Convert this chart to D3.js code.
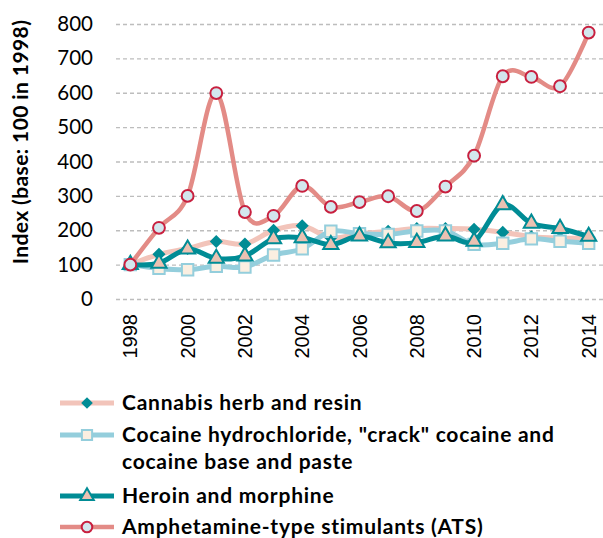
<!DOCTYPE html>
<html>
  <head>
    <meta charset='utf-8'>
    <title>Drug seizures index</title>
    <script src='https://d3js.org/d3.v7.min.js'></script>
    <style>
      body { margin: 0; background: #fff; }
    </style>
  </head>

  <body>
    <div id='grafico'></div>
    <script>
    // Datos
    const years    = [1998, 1999, 2000, 2001, 2002, 2003, 2004, 2005, 2006, 2007, 2008, 2009, 2010, 2011, 2012, 2013, 2014];
    const cannabis = [100, 130, 147, 167, 160, 200, 213, 178, 190, 197, 205, 205, 203, 194, 181, 177, 177];
    const cocaine  = [100, 89, 85, 95, 93, 128, 146, 197, 190, 188, 198, 198, 159, 162, 175, 168, 162];
    const heroin   = [100, 104, 145, 118, 125, 175, 178, 158, 183, 163, 164, 183, 168, 274, 220, 205, 182];
    const ats      = [100, 207, 300, 599, 253, 242, 329, 268, 282, 299, 256, 327, 417, 648, 646, 619, 775];
    const yTicks   = [0, 100, 200, 300, 400, 500, 600, 700, 800];
    const xTicks   = [1998, 2000, 2002, 2004, 2006, 2008, 2010, 2012, 2014];
    const legendLabels = [
      ['Cannabis herb and resin'],
      ['Cocaine hydrochloride, "crack" cocaine and', 'cocaine base and paste'],
      ['Heroin and morphine'],
      ['Amphetamine-type stimulants (ATS)']
    ];

    const W = 603, H = 538;
    const plot = { left: 116, right: 603, top: 24, bottom: 299 };

    const svg = d3.select('#grafico').append('svg')
      .attr('width', W)
      .attr('height', H);

    // Escalas
    const x = d3.scaleBand().domain(years).range([plot.left, plot.right]).padding(0);
    const y = d3.scaleLinear().domain([0, 800]).range([plot.bottom, plot.top]);
    const cx = d => x(d) + x.bandwidth() / 2;

    // Eje Y con rejilla discontinua
    const yAxis = svg.append('g')
      .attr('transform', 'translate(' + plot.left + ',0)')
      .call(d3.axisLeft(y).tickValues(yTicks).tickSize(-(plot.right - plot.left)).tickPadding(23));
    yAxis.select('.domain').remove();
    yAxis.selectAll('.tick line')
      .attr('stroke', '#bdbdbd')
      .attr('stroke-width', 1.3)
      .attr('stroke-dasharray', '4,3');
    yAxis.selectAll('.tick text')
      .attr('fill', '#000')
      .style('font-family', 'Lato, sans-serif')
      .style('font-size', '20.5px');

    // Eje X con etiquetas verticales
    const xAxis = svg.append('g')
      .attr('transform', 'translate(0,' + plot.bottom + ')')
      .call(d3.axisBottom(x).tickValues(xTicks).tickSize(0));
    xAxis.select('.domain').remove();
    xAxis.selectAll('.tick text')
      .attr('fill', '#000')
      .style('font-family', '"Liberation Sans", Arial, sans-serif')
      .style('font-size', '20px')
      .attr('transform', 'rotate(-90)')
      .attr('text-anchor', 'end')
      .attr('x', -15)
      .attr('y', 0)
      .attr('dy', '0.35em');

    // Título eje Y
    svg.append('text')
      .attr('transform', 'translate(28,' + 142 + ') rotate(-90)')
      .attr('text-anchor', 'middle')
      .style('font-family', 'Lato, sans-serif')
      .style('font-weight', 'bold')
      .style('font-size', '21px')
      .style('letter-spacing', '0.4px')
      .text('Index (base: 100 in 1998)');

    // Series
    const diamond = {
      draw(ctx, size) {
        const r = Math.sqrt(size / 2);
        ctx.moveTo(0, -r); ctx.lineTo(r, 0); ctx.lineTo(0, r); ctx.lineTo(-r, 0); ctx.closePath();
      }
    };
    const series = [
      { values: cannabis, line: '#f2c4ba', width: 5, symbol: diamond, size: 85, fill: '#008c95', stroke: 'none', sw: 0 },
      { values: cocaine,  line: '#94cedc', width: 5, symbol: d3.symbolSquare, size: 130, fill: '#fbefe1', stroke: '#94cedc', sw: 2 },
      { values: heroin,   line: '#008c95', width: 5, symbol: d3.symbolTriangle, size: 100, fill: '#ebc1b2', stroke: '#008c95', sw: 2 },
      { values: ats,      line: '#e38b86', width: 4.5, symbol: d3.symbolCircle, size: 110, fill: '#d3e7ee', stroke: '#c8203f', sw: 2 }
    ];

    const line = d3.line()
      .x((d, i) => cx(years[i]))
      .y(d => y(d))
      .curve(d3.curveCatmullRom.alpha(0));

    series.forEach(s => {
      const g = svg.append('g');
      g.append('path')
        .datum(s.values)
        .attr('d', line)
        .attr('fill', 'none')
        .attr('stroke', s.line)
        .attr('stroke-width', s.width)
        .attr('stroke-linejoin', 'round');
      g.selectAll('path.m')
        .data(s.values).enter().append('path')
        .attr('class', 'm')
        .attr('d', d3.symbol().type(s.symbol).size(s.size))
        .attr('transform', (d, i) => 'translate(' + cx(years[i]) + ',' + y(d) + ')')
        .attr('fill', s.fill)
        .attr('stroke', s.stroke)
        .attr('stroke-width', s.sw);
    });

    // Leyenda
    const legendY = [403, 435, 496, 527];
    const legend = svg.append('g');
    series.forEach((s, i) => {
      const g = legend.append('g').attr('transform', 'translate(0,' + legendY[i] + ')');
      g.append('line')
        .attr('x1', 60).attr('x2', 114)
        .attr('stroke', s.line)
        .attr('stroke-width', s.width);
      g.append('path')
        .attr('d', d3.symbol().type(s.symbol).size(s.size * 0.8))
        .attr('transform', 'translate(87,0)')
        .attr('fill', s.fill)
        .attr('stroke', s.stroke)
        .attr('stroke-width', s.sw);
      const t = g.append('text')
        .attr('x', 122)
        .attr('y', 7)
        .style('font-family', 'Lato, sans-serif')
        .style('font-weight', 'bold')
        .style('font-size', '21px')
        .style('letter-spacing', '0.75px');
      legendLabels[i].forEach((txt, j) => {
        t.append('tspan').attr('x', 122).attr('dy', j === 0 ? 0 : 26.5).text(txt);
      });
    });
    </script>
  </body>
</html>
